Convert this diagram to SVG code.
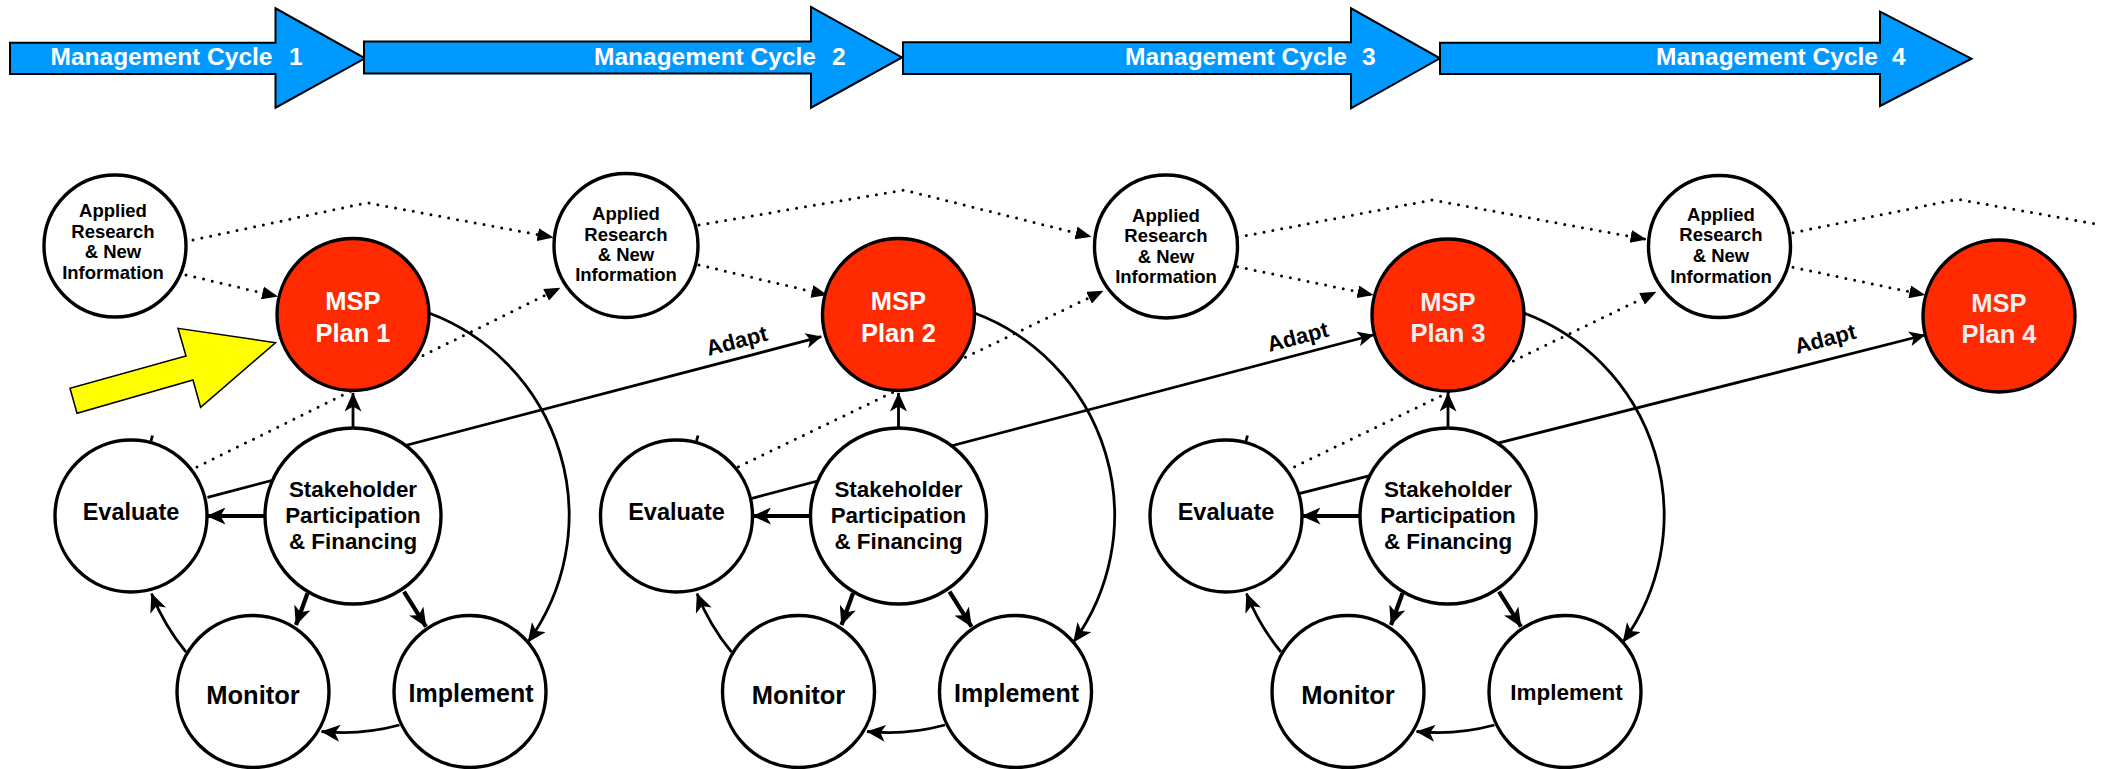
<svg xmlns="http://www.w3.org/2000/svg" width="2117" height="769" viewBox="0 0 2117 769">
<style>
text{font-family:"Liberation Sans",Arial,sans-serif;font-weight:bold;text-anchor:middle;fill:#000}
.band polygon{fill:#0099ff;stroke:#000;stroke-width:2}
.band text{fill:#fff;font-size:24.5px;text-anchor:start}
.nd circle{fill:#fff;stroke:#000;stroke-width:3.4}
.msp circle{fill:#ff2a00}
.msp text{fill:#fff;font-size:25.5px}
.ar text{font-size:18.5px}
.ev text{font-size:23.5px}
.sh text{font-size:22.4px}
.mo text{font-size:25.5px}
.im text{font-size:25px}
.ln{fill:none;stroke:#000;stroke-width:2.8}
.thk{fill:none;stroke:#000;stroke-width:4.2}
.dot{fill:none;stroke:#000;stroke-width:3;stroke-dasharray:0 9;stroke-linecap:round}
.adapt{font-size:22px;text-anchor:start}
</style>
<defs>
<marker id="ah" viewBox="0 0 19 17" refX="18.5" refY="8.5" markerWidth="19" markerHeight="17" markerUnits="userSpaceOnUse" orient="auto"><path d="M0,0 L19,8.5 L0,17 L5,8.5 z" fill="#000"/></marker>
<marker id="as" viewBox="0 0 16 15" refX="15.5" refY="7.5" markerWidth="16" markerHeight="15" markerUnits="userSpaceOnUse" orient="auto"><path d="M0,0 L16,7.5 L0,15 L4,7.5 z" fill="#000"/></marker>
<marker id="ad" viewBox="0 0 16 13" refX="15.5" refY="6.5" markerWidth="16" markerHeight="13" markerUnits="userSpaceOnUse" orient="auto"><path d="M0,0 L16,6.5 L0,13 z" fill="#000"/></marker>
</defs>
<rect width="2117" height="769" fill="#fff"/>

<g id="cycle-band" class="band">
<polygon points="10,42.7 275.5,42.7 275.5,8.3 365,58.3 275.5,107.7 275.5,74 10,74"/>
<polygon points="364,41.5 811,41.5 811,7 902,57.5 811,107.7 811,73.5 364,73.5"/>
<polygon points="903,42.3 1351,42.3 1351,8.3 1440,58.3 1351,108.3 1351,74 903,74"/>
<polygon points="1440,42.7 1880,42.7 1880,11.7 1971.5,58.7 1880,106 1880,74 1440,74"/>
<text x="50.5" y="65">Management Cycle</text><text x="289" y="65">1</text>
<text x="594" y="65">Management Cycle</text><text x="832" y="65">2</text>
<text x="1125" y="65">Management Cycle</text><text x="1362" y="65">3</text>
<text x="1656" y="65">Management Cycle</text><text x="1892" y="65">4</text>
</g>

<g id="start-arrow">
<polygon points="77,413.3 70,388.3 186,356 178,328.3 275.5,342.7 200.6,407.3 193,380" fill="#ffff00" stroke="#000" stroke-width="1.5"/>
</g>

<g id="connectors">
<path class="dot" d="M193,240 L367,202.7 L553,237.5" marker-end="url(#ad)"/>
<path class="dot" d="M186,275 L277.5,296.5" marker-end="url(#ad)"/>
<path class="dot" d="M197,467 L560,288" marker-end="url(#ad)"/>
<path class="dot" d="M699,225 L904,190 L1091,236.7" marker-end="url(#ad)"/>
<path class="dot" d="M699,265 L827,295" marker-end="url(#ad)"/>
<path class="dot" d="M738.5,466.7 L1103,291" marker-end="url(#ad)"/>
<path class="dot" d="M1237.5,237.3 L1432,200 L1646,239.3" marker-end="url(#ad)"/>
<path class="dot" d="M1237.5,266.7 L1373,295" marker-end="url(#ad)"/>
<path class="dot" d="M1294.6,466.7 L1656,292" marker-end="url(#ad)"/>
<path class="dot" d="M1793,232.7 L1957.7,199.3 L2096,224"/>
<path class="dot" d="M1793,267.3 L1924.8,295" marker-end="url(#ad)"/>

<path class="ln" d="M207.5,497.3 L821.3,336.7" marker-end="url(#as)"/>
<path class="ln" d="M752,498.3 L1373.2,335" marker-end="url(#as)"/>
<path class="ln" d="M1300,493.3 L1924.8,335" marker-end="url(#as)"/>
<text class="adapt" transform="translate(708.5,356) rotate(-14.7)">Adapt</text>
<text class="adapt" transform="translate(1269.5,352) rotate(-14.7)">Adapt</text>
<text class="adapt" transform="translate(1797,354) rotate(-14.7)">Adapt</text>

<path class="thk" d="M265,516 L207,516" marker-end="url(#ah)"/>
<path class="ln" d="M353,428 L353,393" marker-end="url(#ah)"/>
<path class="thk" d="M307.5,593.3 L296,625" marker-end="url(#ah)"/>
<path class="thk" d="M404,591.7 L426,626.7" marker-end="url(#ah)"/>
<path class="ln" d="M429,313 A216,216 0 0 1 528,642" marker-end="url(#ah)"/>
<path class="ln" d="M399.5,725 A216,216 0 0 1 321.5,731.5" marker-end="url(#ah)"/>
<path class="ln" d="M186,652 A216,216 0 0 1 151.5,593.5" marker-end="url(#ah)"/>
<path class="ln" d="M151,441 L152.5,435.5"/>

<path class="thk" d="M810.5,516 L752.5,516" marker-end="url(#ah)"/>
<path class="ln" d="M898.5,428 L898.5,393" marker-end="url(#ah)"/>
<path class="thk" d="M853,593.3 L841.5,625" marker-end="url(#ah)"/>
<path class="thk" d="M949.5,591.7 L971.5,626.7" marker-end="url(#ah)"/>
<path class="ln" d="M974.5,313 A216,216 0 0 1 1073.5,642" marker-end="url(#ah)"/>
<path class="ln" d="M945,725 A216,216 0 0 1 867,731.5" marker-end="url(#ah)"/>
<path class="ln" d="M731.5,652 A216,216 0 0 1 697,593.5" marker-end="url(#ah)"/>
<path class="ln" d="M696.5,441 L698,435.5"/>

<path class="thk" d="M1360,516 L1302,516" marker-end="url(#ah)"/>
<path class="ln" d="M1448,428 L1448,393" marker-end="url(#ah)"/>
<path class="thk" d="M1402.5,593.3 L1391,625" marker-end="url(#ah)"/>
<path class="thk" d="M1499,591.7 L1521,626.7" marker-end="url(#ah)"/>
<path class="ln" d="M1524,313 A216,216 0 0 1 1623,642" marker-end="url(#ah)"/>
<path class="ln" d="M1494.5,725 A216,216 0 0 1 1416.5,731.5" marker-end="url(#ah)"/>
<path class="ln" d="M1281,652 A216,216 0 0 1 1246.5,593.5" marker-end="url(#ah)"/>
<path class="ln" d="M1246,441 L1247.5,435.5"/>
</g>

<g id="ar1" class="nd ar"><circle cx="115" cy="246" r="71"/>
<text x="113" y="217">Applied</text><text x="113" y="237.5">Research</text><text x="113" y="258">&amp; New</text><text x="113" y="278.5">Information</text></g>
<g id="ar2" class="nd ar"><circle cx="626" cy="245.5" r="72"/>
<text x="626" y="220">Applied</text><text x="626" y="240.5">Research</text><text x="626" y="261">&amp; New</text><text x="626" y="281">Information</text></g>
<g id="ar3" class="nd ar"><circle cx="1166" cy="246.5" r="71.5"/>
<text x="1166" y="221.5">Applied</text><text x="1166" y="242">Research</text><text x="1166" y="262.5">&amp; New</text><text x="1166" y="283">Information</text></g>
<g id="ar4" class="nd ar"><circle cx="1719.5" cy="246.5" r="71"/>
<text x="1721" y="220.5">Applied</text><text x="1721" y="241">Research</text><text x="1721" y="261.5">&amp; New</text><text x="1721" y="282.5">Information</text></g>

<g id="msp1" class="nd msp"><circle cx="353" cy="314.5" r="76"/><text x="353" y="310">MSP</text><text x="353" y="341.5">Plan 1</text></g>
<g id="msp2" class="nd msp"><circle cx="898.5" cy="314.5" r="76"/><text x="898.5" y="310">MSP</text><text x="898.5" y="341.5">Plan 2</text></g>
<g id="msp3" class="nd msp"><circle cx="1448" cy="315" r="76"/><text x="1448" y="310.5" style="fill:#eeeeee">MSP</text><text x="1448" y="342" style="fill:#eeeeee">Plan 3</text></g>
<g id="msp4" class="nd msp"><circle cx="1999" cy="316" r="76"/><text x="1999" y="311.5" style="fill:#eeeeee">MSP</text><text x="1999" y="343" style="fill:#eeeeee">Plan 4</text></g>

<g id="stake1" class="nd sh"><circle cx="353" cy="516" r="88"/><text x="353" y="496.5">Stakeholder</text><text x="353" y="522.5">Participation</text><text x="353" y="548.5">&amp; Financing</text></g>
<g id="eval1" class="nd ev"><circle cx="131" cy="516" r="76"/><text x="131" y="520">Evaluate</text></g>
<g id="mon1" class="nd mo"><circle cx="253" cy="691.5" r="76"/><text x="253" y="703.5">Monitor</text></g>
<g id="imp1" class="nd im"><circle cx="470" cy="691.5" r="76"/><text x="471" y="701.5">Implement</text></g>

<g id="stake2" class="nd sh"><circle cx="898.5" cy="516" r="88"/><text x="898.5" y="496.5">Stakeholder</text><text x="898.5" y="522.5">Participation</text><text x="898.5" y="548.5">&amp; Financing</text></g>
<g id="eval2" class="nd ev"><circle cx="676.5" cy="516" r="76"/><text x="676.5" y="520">Evaluate</text></g>
<g id="mon2" class="nd mo"><circle cx="798.5" cy="691.5" r="76"/><text x="798.5" y="703.5">Monitor</text></g>
<g id="imp2" class="nd im"><circle cx="1015.5" cy="691.5" r="76"/><text x="1016.5" y="701.5">Implement</text></g>

<g id="stake3" class="nd sh"><circle cx="1448" cy="516" r="88"/><text x="1448" y="496.5">Stakeholder</text><text x="1448" y="522.5">Participation</text><text x="1448" y="548.5">&amp; Financing</text></g>
<g id="eval3" class="nd ev"><circle cx="1226" cy="516" r="76"/><text x="1226" y="520">Evaluate</text></g>
<g id="mon3" class="nd mo"><circle cx="1348" cy="691.5" r="76"/><text x="1348" y="703.5">Monitor</text></g>
<g id="imp3" class="nd im"><circle cx="1565" cy="691.5" r="76"/><text x="1566.5" y="699.5" style="font-size:22.5px">Implement</text></g>
</svg>
